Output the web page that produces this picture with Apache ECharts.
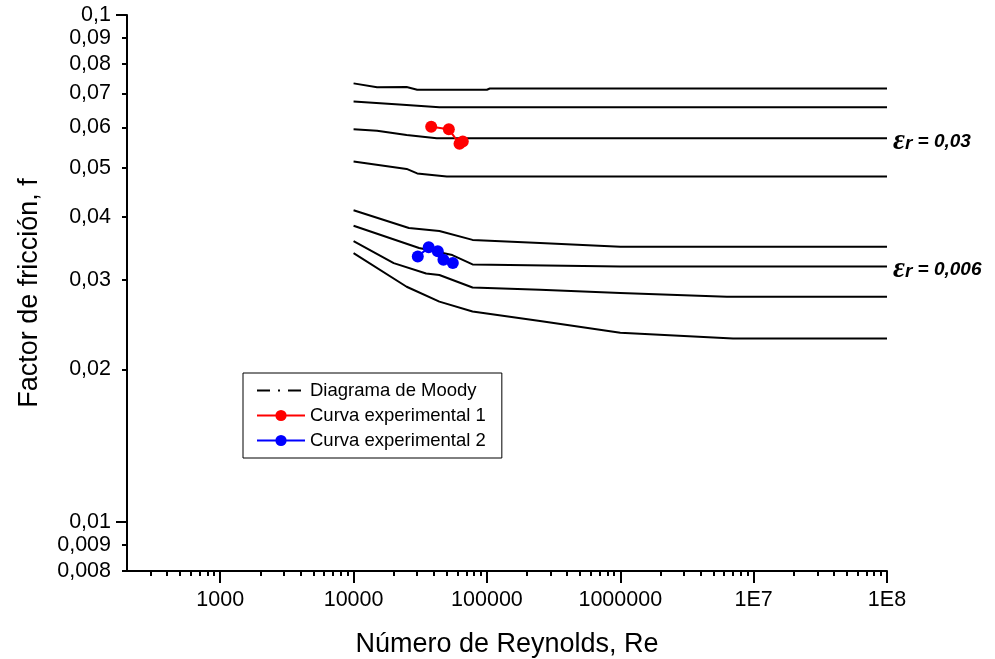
<!DOCTYPE html>
<html>
<head>
<meta charset="utf-8">
<script src="https://cdn.jsdelivr.net/npm/echarts@6/dist/echarts.min.js"></script>
<style>html,body{margin:0;padding:0;background:#fff;}#chart{width:995px;height:659px;}</style>
</head>
<body>
<div id="chart"></div>
<script>
// ---- Data (Re, f) ----
const moody1 = [[1e4,0.0733],[1.5e4,0.0720],[2.5e4,0.0721],[3e4,0.0712],[1e5,0.0712],[1.05e5,0.0716],[1e8,0.0716]];
const moody2 = [[1e4,0.0675],[2.2e4,0.0666],[4.4e4,0.0658],[1e8,0.0658]];
const moody3 = [[1e4,0.0595],[1.5e4,0.0591],[2.5e4,0.0580],[4.2e4,0.0571],[1e8,0.0571]];
const moody4 = [[1e4,0.0514],[2.5e4,0.0497],[3e4,0.0487],[5e4,0.0480],[1e8,0.0480]];
const moody5 = [[1e4,0.0412],[2.6e4,0.0380],[4.4e4,0.0375],[7.8e4,0.0360],[2.5e5,0.0355],[1e6,0.0349],[1e8,0.0349]];
const moody6 = [[1e4,0.0384],[3.1e4,0.0347],[5.5e4,0.0336],[7.8e4,0.0322],[1e6,0.0319],[1e8,0.0319]];
const moody7 = [[1e4,0.0358],[2e4,0.0324],[3.5e4,0.0309],[4.4e4,0.0307],[7.8e4,0.0290],[2.5e5,0.0287],[1e6,0.0283],[6.3e6,0.0278],[1e8,0.0278]];
const moody8 = [[1e4,0.0339],[2.5e4,0.0291],[4.4e4,0.0272],[7.8e4,0.0260],[2.5e5,0.0249],[1e6,0.0236],[7e6,0.0230],[1e8,0.0230]];
const exp1 = [[38200,0.0602],[51800,0.0595],[62300,0.0557],[65900,0.0563]];
const exp2 = [[30300,0.0334],[36600,0.0348],[42800,0.0342],[47200,0.0329],[55500,0.0324]];

const xMin = 200, xMax = 1e8;
const yMin = 0.008, yMax = 0.1;
const xTickValues = [1000, 10000, 100000, 1000000, 1e7, 1e8];
const xTickLabels = ['1000', '10000', '100000', '1000000', '1E7', '1E8'];
const xMinorMultipliers = [2, 3, 4, 5, 6, 7, 8, 9];
const yTickValues = [0.008, 0.009, 0.01, 0.02, 0.03, 0.04, 0.05, 0.06, 0.07, 0.08, 0.09, 0.1];
const yTickLabels = ['0,008', '0,009', '0,01', '0,02', '0,03', '0,04', '0,05', '0,06', '0,07', '0,08', '0,09', '0,1'];
const yMajorTicks = [0.01, 0.1];
const curveLabels = {2: '0,03', 5: '0,006'};
const moodyName = 'Diagrama de Moody';
const exp1Name = 'Curva experimental 1';
const exp2Name = 'Curva experimental 2';

// ---- build ----
const L = v => Math.log10(v);
const toLog = arr => arr.map(p => [L(p[0]), L(p[1])]);
const nearestLabel = (vals, labels, v) => {
  let best = 0, bd = Infinity;
  vals.forEach((t, i) => { const d = Math.abs(L(t) - v); if (d < bd) { bd = d; best = i; } });
  return labels[best];
};
const xMinor = [];
for (let k = 2; k <= 7; k++) xMinorMultipliers.forEach(m => { const v = m * Math.pow(10, k); if (v > xMin && v < xMax) xMinor.push(L(v)); });
const yMinor = yTickValues.filter(v => yMajorTicks.indexOf(v) < 0).map(L);

const FONT = 'Liberation Sans, Arial, sans-serif';
const moodySets = [moody1, moody2, moody3, moody4, moody5, moody6, moody7, moody8];

const series = moodySets.map((d, i) => {
  const s = {
    name: moodyName, type: 'line', data: toLog(d), symbol: 'none', showSymbol: false,
    lineStyle: {color: '#000', width: 2}, itemStyle: {color: '#000'}, z: 2, silent: true
  };
  if (curveLabels[i]) {
    s.endLabel = {
      show: true, distance: 6, offset: [0, 3],
      formatter: '{e|ε}{r|r}{t| = ' + curveLabels[i] + '}',
      rich: {
        e: {fontFamily: 'Liberation Serif, serif', fontStyle: 'italic', fontWeight: 'bold', fontSize: 29, color: '#000'},
        r: {fontFamily: FONT, fontStyle: 'italic', fontWeight: 'bold', fontSize: 19, color: '#000', padding: [5, 0, 0, 0]},
        t: {fontFamily: FONT, fontStyle: 'italic', fontWeight: 'bold', fontSize: 19, color: '#000'}
      }
    };
  }
  return s;
});
series.push({
  name: exp1Name, type: 'line', data: toLog(exp1), symbol: 'circle', symbolSize: 12,
  lineStyle: {color: '#ff0000', width: 2}, itemStyle: {color: '#ff0000'}, z: 5
});
series.push({
  name: exp2Name, type: 'line', data: toLog(exp2), symbol: 'circle', symbolSize: 12,
  lineStyle: {color: '#0000ff', width: 2}, itemStyle: {color: '#0000ff'}, z: 5
});

const axisLineStyle = {color: '#000', width: 2};
const option = {
  backgroundColor: '#fff',
  animation: false,
  grid: {left: 127, right: 108, top: 15, bottom: 88, containLabel: false, outerBoundsMode: 'none'},
  legend: {
    left: 243, top: 373, orient: 'vertical',
    backgroundColor: '#fff', borderColor: '#000', borderWidth: 1, borderRadius: 0,
    padding: [8, 16, 8, 13], itemGap: 6, itemWidth: 48, itemHeight: 14,
    textStyle: {fontFamily: FONT, fontSize: 18.5, color: '#000'},
    data: [
      {name: moodyName, itemStyle: {opacity: 0}, lineStyle: {type: [13, 8, 2, 8], width: 2, color: '#000'}},
      {name: exp1Name},
      {name: exp2Name}
    ]
  },
  xAxis: [
    {
      type: 'value', min: L(xMin), max: L(xMax), position: 'bottom',
      name: 'Número de Reynolds, Re', nameLocation: 'middle', nameGap: 60,
      nameTextStyle: {fontFamily: FONT, fontSize: 27, color: '#000'},
      axisLine: {show: true, onZero: false, lineStyle: axisLineStyle},
      axisTick: {show: true, inside: false, length: 12, lineStyle: {color: '#000', width: 2}, customValues: xTickValues.map(L)},
      axisLabel: {show: true, margin: 18, fontFamily: FONT, fontSize: 21.5, color: '#000', customValues: xTickValues.map(L),
        formatter: v => nearestLabel(xTickValues, xTickLabels, v)},
      splitLine: {show: false}
    },
    {
      type: 'value', min: L(xMin), max: L(xMax), position: 'bottom',
      axisLine: {show: false, onZero: false},
      axisTick: {show: true, inside: false, length: 5, lineStyle: {color: '#000', width: 2}, customValues: xMinor},
      axisLabel: {show: false},
      splitLine: {show: false}
    }
  ],
  yAxis: [
    {
      type: 'value', min: L(yMin), max: L(yMax), position: 'left',
      name: 'Factor de fricción, f', nameLocation: 'middle', nameGap: 84,
      nameTextStyle: {fontFamily: FONT, fontSize: 27, color: '#000'},
      axisLine: {show: true, onZero: false, lineStyle: axisLineStyle},
      axisTick: {show: true, inside: false, length: 11, lineStyle: {color: '#000', width: 2}, customValues: yMajorTicks.map(L)},
      axisLabel: {show: true, margin: 16, fontFamily: FONT, fontSize: 21.5, color: '#000', customValues: yTickValues.map(L),
        formatter: v => nearestLabel(yTickValues, yTickLabels, v)},
      splitLine: {show: false}
    },
    {
      type: 'value', min: L(yMin), max: L(yMax), position: 'left',
      axisLine: {show: false, onZero: false},
      axisTick: {show: true, inside: false, length: 5, lineStyle: {color: '#000', width: 2}, customValues: yMinor},
      axisLabel: {show: false},
      splitLine: {show: false}
    }
  ],
  series: series
};
const chart = echarts.init(document.getElementById('chart'), null, {renderer: 'canvas'});
chart.setOption(option);
</script>
</body>
</html>
